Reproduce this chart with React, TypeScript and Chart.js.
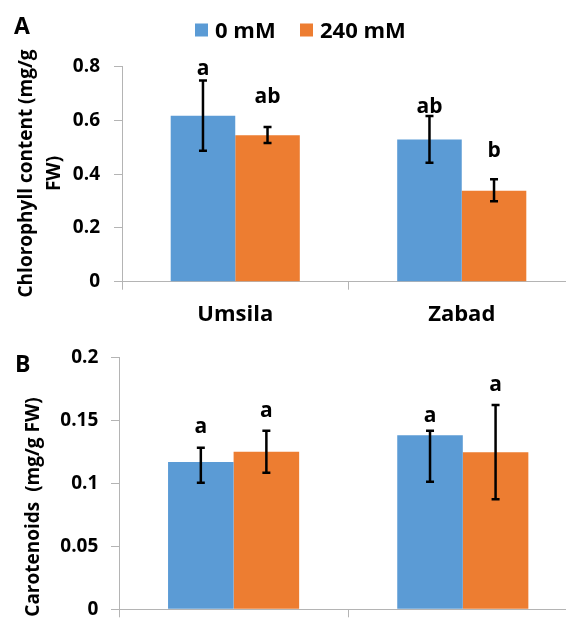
import React, { useEffect, useRef } from 'react';
import { Chart, registerables } from 'chart.js';

Chart.register(...registerables);

// ---------- shared ----------
const categories = ['Umsila', 'Zabad'];
const seriesLabels = ['0 mM', '240 mM'];
const seriesColors = ['#5B9BD5', '#ED7D31'];

// ---------- Panel A: chlorophyll content (mg/g FW) ----------
const chl_0mM = [0.617, 0.529];
const chl_240mM = [0.544, 0.338];
const chlErrPlus_0mM = [0.131, 0.087];
const chlErrMinus_0mM = [0.130, 0.087];
const chlErrPlus_240mM = [0.031, 0.043];
const chlErrMinus_240mM = [0.028, 0.039];
const chlLetters_0mM = ['a', 'ab'];
const chlLetters_240mM = ['ab', 'b'];
const chlLetterLevel_0mM = [0.768, 0.626];
const chlLetterLevel_240mM = [0.664, 0.464];
const chlTicks = ['0', '0.2', '0.4', '0.6', '0.8'];

// ---------- Panel B: carotenoids (mg/g FW) ----------
const car_0mM = [0.1169, 0.1381];
const car_240mM = [0.1251, 0.1246];
const carErrPlus_0mM = [0.0114, 0.0036];
const carErrMinus_0mM = [0.0164, 0.0368];
const carErrPlus_240mM = [0.0166, 0.0375];
const carErrMinus_240mM = [0.0167, 0.0373];
const carLetters_0mM = ['a', 'a'];
const carLetters_240mM = ['a', 'a'];
const carLetterLevel_0mM = [0.1402, 0.1489];
const carLetterLevel_240mM = [0.1529, 0.1735];
const carTicks = ['0', '0.05', '0.1', '0.15', '0.2'];

const FONT = '"Open Sans", "Noto Sans", sans-serif';
const AXIS_GREY = '#B4B4B4';

type Series = {
  values: number[];
  plus: number[];
  minus: number[];
  letters: string[];
  letterLevel: number[];
};

type PanelCfg = {
  top: number;
  width: number;
  height: number;
  padTop: number;
  padRight: number;
  yWidth: number;
  xHeight: number;
  yMax: number;
  yStep: number;
  tickLabels: string[];
  tickPadding: number;
  series: Series[];
  titleLines: string[];
  titleX: number[];
  titleY: number;
  panelLabel: string;
  panelLabelX: number;
  panelLabelY: number;
  legend: boolean;
  xCatPct: number;
};

function overlayPlugin(cfg: PanelCfg) {
  return {
    id: 'overlay',
    afterDatasetsDraw(chart: any) {
      const ctx = chart.ctx;
      const ys = chart.scales.y;
      cfg.series.forEach((s, i) => {
        const meta = chart.getDatasetMeta(i);
        meta.data.forEach((bar: any, j: number) => {
          const x = bar.x;
          const v = s.values[j];
          const yt = ys.getPixelForValue(v + s.plus[j]);
          const yb = ys.getPixelForValue(v - s.minus[j]);
          ctx.save();
          ctx.strokeStyle = '#000';
          ctx.lineWidth = 2.5;
          ctx.beginPath();
          ctx.moveTo(x, yt);
          ctx.lineTo(x, yb);
          ctx.moveTo(x - 4, yt);
          ctx.lineTo(x + 4, yt);
          ctx.moveTo(x - 4, yb);
          ctx.lineTo(x + 4, yb);
          ctx.stroke();
          ctx.font = `bold 21px ${FONT}`;
          ctx.fillStyle = '#000';
          ctx.textAlign = 'center';
          ctx.textBaseline = 'alphabetic';
          ctx.fillText(s.letters[j], x, ys.getPixelForValue(s.letterLevel[j]));
          ctx.restore();
        });
      });
    },
    afterDraw(chart: any) {
      const ctx = chart.ctx;
      ctx.save();
      // axis title (rotated)
      ctx.font = `bold 19px ${FONT}`;
      ctx.fillStyle = '#000';
      ctx.textAlign = 'center';
      ctx.textBaseline = 'middle';
      cfg.titleLines.forEach((line, k) => {
        ctx.save();
        ctx.translate(cfg.titleX[k], cfg.titleY);
        ctx.rotate(-Math.PI / 2);
        ctx.fillText(line, 0, 0);
        ctx.restore();
      });
      // panel letter
      ctx.font = `bold 23px ${FONT}`;
      ctx.textAlign = 'left';
      ctx.textBaseline = 'alphabetic';
      ctx.fillText(cfg.panelLabel, cfg.panelLabelX, cfg.panelLabelY);
      // legend
      if (cfg.legend) {
        const boxX = [195, 300];
        ctx.font = `bold 22px ${FONT}`;
        seriesLabels.forEach((lab, i) => {
          ctx.fillStyle = seriesColors[i];
          ctx.fillRect(boxX[i], 23.5, 13, 13);
          ctx.fillStyle = '#000';
          ctx.textBaseline = 'alphabetic';
          ctx.fillText(lab, boxX[i] + 20, 37.5);
        });
      }
      ctx.restore();
    },
  };
}

function Panel({ cfg }: { cfg: PanelCfg }) {
  const ref = useRef<HTMLCanvasElement | null>(null);
  useEffect(() => {
    if (!ref.current) return;
    const chart = new Chart(ref.current, {
      type: 'bar',
      data: {
        labels: categories,
        datasets: cfg.series.map((s, i) => ({
          label: seriesLabels[i],
          data: s.values,
          backgroundColor: seriesColors[i],
          borderWidth: 0,
          categoryPercentage: cfg.xCatPct,
          barPercentage: 1.0,
        })),
      },
      options: {
        responsive: false,
        animation: false,
        devicePixelRatio: 1,
        layout: { padding: { top: cfg.padTop, right: cfg.padRight, bottom: 0, left: 0 } },
        plugins: { legend: { display: false }, tooltip: { enabled: false }, title: { display: false } },
        scales: {
          x: {
            grid: { drawOnChartArea: false, tickLength: 8, color: AXIS_GREY, offset: true },
            border: { color: AXIS_GREY, width: 1 },
            ticks: { font: { family: FONT, size: 22, weight: 'bold' }, color: '#000', padding: 12 },
            afterFit: (s: any) => {
              s.height = cfg.xHeight;
            },
          },
          y: {
            min: 0,
            max: cfg.yMax,
            grid: { drawOnChartArea: false, tickLength: 8, color: AXIS_GREY },
            border: { color: AXIS_GREY, width: 1 },
            ticks: {
              stepSize: cfg.yStep,
              font: { family: FONT, size: 19, weight: 'bold' },
              color: '#000',
              padding: cfg.tickPadding,
              callback: (_v: any, i: number) => cfg.tickLabels[i],
            },
            afterFit: (s: any) => {
              s.width = cfg.yWidth;
            },
          },
        },
      } as any,
      plugins: [overlayPlugin(cfg)],
    });
    return () => chart.destroy();
  }, [cfg]);
  return (
    <canvas
      ref={ref}
      width={cfg.width}
      height={cfg.height}
      style={{ position: 'absolute', left: 0, top: cfg.top, width: cfg.width, height: cfg.height }}
    />
  );
}

const panelA: PanelCfg = {
  top: 0,
  width: 600,
  height: 332,
  padTop: 66.5,
  padRight: 25,
  yWidth: 122,
  xHeight: 50.3,
  yMax: 0.8,
  yStep: 0.2,
  tickLabels: chlTicks,
  tickPadding: 14,
  series: [
    { values: chl_0mM, plus: chlErrPlus_0mM, minus: chlErrMinus_0mM, letters: chlLetters_0mM, letterLevel: chlLetterLevel_0mM },
    { values: chl_240mM, plus: chlErrPlus_240mM, minus: chlErrMinus_240mM, letters: chlLetters_240mM, letterLevel: chlLetterLevel_240mM },
  ],
  titleLines: ['Chlorophyll content (mg/g', 'FW)'],
  titleX: [27, 54.5],
  titleY: 173.5,
  panelLabel: 'A',
  panelLabelX: 14,
  panelLabelY: 34,
  legend: true,
  xCatPct: 0.57,
};

const panelB: PanelCfg = {
  top: 330,
  width: 600,
  height: 340,
  padTop: 27.3,
  padRight: 22.6,
  yWidth: 119,
  xHeight: 60.7,
  yMax: 0.2,
  yStep: 0.05,
  tickLabels: carTicks,
  tickPadding: 12.7,
  series: [
    { values: car_0mM, plus: carErrPlus_0mM, minus: carErrMinus_0mM, letters: carLetters_0mM, letterLevel: carLetterLevel_0mM },
    { values: car_240mM, plus: carErrPlus_240mM, minus: carErrMinus_240mM, letters: carLetters_240mM, letterLevel: carLetterLevel_240mM },
  ],
  titleLines: ['Carotenoids  (mg/g FW)'],
  titleX: [33.5],
  titleY: 177,
  panelLabel: 'B',
  panelLabelX: 15,
  panelLabelY: 42,
  legend: false,
  xCatPct: 0.572,
};

export default function App() {
  return (
    <div
      style={{
        position: 'fixed',
        left: 0,
        top: 0,
        width: 566,
        height: 619,
        overflow: 'hidden',
        background: '#fff',
      }}
    >
      <Panel cfg={panelA} />
      <Panel cfg={panelB} />
    </div>
  );
}
